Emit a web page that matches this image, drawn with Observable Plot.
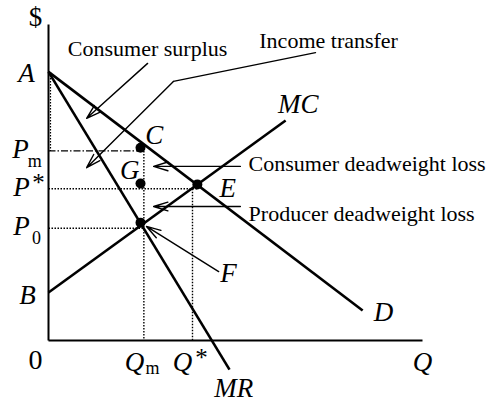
<!DOCTYPE html>
<html><head><meta charset="utf-8">
<script src="https://cdn.jsdelivr.net/npm/d3@7"></script>
<script src="https://cdn.jsdelivr.net/npm/@observablehq/plot@0.6"></script>
<style>body{margin:0;background:#fff}</style>
</head><body><div id="chart"></div>
<script>
// Key price / quantity levels (arbitrary units, Q 0..100, $ 0..100)
const Qm = 25.5, Qstar = 38.5;
const Pm = 60, Pstar = 48, P0 = 35.5, Aval = 85, Bval = 15.2;

// Curves: demand D, marginal revenue MR, marginal cost MC
const curves = [
  {name: "D",  q1: 0, p1: Aval, q2: 84,   p2: 9.5},
  {name: "MR", q1: 0, p1: Aval, q2: 48.4, p2: -9.2},
  {name: "MC", q1: 0, p1: Bval, q2: 63.4, p2: 69.6}
];

// Marked points
const points = [
  {name: "C", q: 24.6, p: 61.0},
  {name: "G", q: 24.6, p: 49.7},
  {name: "E", q: 39.8, p: 49.4},
  {name: "F", q: 24.6, p: 37.3}
];

// Dotted guide lines
const dottedGuides = [
  {q1: 0, p1: Pstar, q2: 39.8, p2: Pstar},
  {q1: 0, p1: P0, q2: Qm, p2: P0},
  {q1: Qm, p1: Pm, q2: Qm, p2: 0},
  {q1: Qstar, p1: Pstar, q2: Qstar, p2: 0}
];
const dottedAxisGuide = [{q1: 0, p1: Aval, q2: 0, p2: Pm}];
const dashDotGuides = [{q1: 0, p1: Pm, q2: Qm, p2: Pm}];

// Annotation arrows (from label to target area)
const arrows = [
  {q1: 26.5, p1: 87.7, q2: 10.2, p2: 70.3},   // consumer surplus
  {q1: 33.4, p1: 82.0, q2: 10.2, p2: 54.7},   // income transfer
  {q1: 51.3, p1: 55.1, q2: 28.1, p2: 55.1},   // consumer DWL
  {q1: 51.3, p1: 42.4, q2: 28.1, p2: 42.4},   // producer DWL
  {q1: 45.5, p1: 21.8, q2: 26.2, p2: 36.1}    // F
];
const incomeLeader = [{q: 71.4, p: 91.1}, {q: 33.4, p: 82.0}];

// Italic letter labels
const italicLabels = [
  {text: "A", q: -5.9, p: 84.5},
  {text: "B", q: -5.6, p: 14.2},
  {text: "P", q: -7.5, p: 60.4},
  {text: "P", q: -7.2, p: 48.4},
  {text: "P", q: -7.2, p: 36.1},
  {text: "Q", q: 23.0, p: -7.0},
  {text: "Q", q: 35.8, p: -7.0},
  {text: "Q", q: 100, p: -7.0},
  {text: "MR", q: 49.5, p: -15.2},
  {text: "D", q: 89.6, p: 8.9},
  {text: "MC", q: 66.8, p: 74.7},
  {text: "E", q: 47.9, p: 48.1},
  {text: "C", q: 28.3, p: 64.9},
  {text: "G", q: 21.7, p: 53.8},
  {text: "F", q: 48.1, p: 21.2}
];
// Upright small labels (subscripts, stars, origin, $)
const uprightLabels = [
  {text: "m", q: -3.7, p: 56.6, size: 18},
  {text: "*", q: -2.7, p: 49.7, size: 25},
  {text: "0", q: -3.2, p: 32.3, size: 18},
  {text: "m", q: 27.8, p: -8.9, size: 18},
  {text: "*", q: 40.9, p: -5.4, size: 25},
  {text: "0", q: -3.5, p: -6.3, size: 28},
  {text: "$", q: -3.5, p: 102.2, size: 27}
];
// Text annotations
const centeredNotes = [
  {text: "Consumer surplus", q: 26.5, p: 92.4},
  {text: "Income transfer", q: 74.9, p: 94.9}
];
const leftNotes = [
  {text: "Consumer deadweight loss", q: 53.5, p: 56.0},
  {text: "Producer deadweight loss", q: 53.5, p: 40.2}
];

const chart = Plot.plot({
  width: 488,
  height: 402,
  margin: 0,
  x: {domain: [0, 100], range: [48, 422], axis: null},
  y: {domain: [0, 100], range: [340, 24], axis: null},
  style: {fontFamily: "'Liberation Serif', 'Times New Roman', serif", background: "white", color: "black"},
  marks: [
    // axes
    Plot.link([{q1: 0, p1: 100, q2: 0, p2: 0}, {q1: 0, p1: 0, q2: 100, p2: 0}],
      {x1: "q1", y1: "p1", x2: "q2", y2: "p2", stroke: "black", strokeWidth: 2}),
    // guides
    Plot.link(dottedGuides, {x1: "q1", y1: "p1", x2: "q2", y2: "p2", stroke: "black", strokeWidth: 1.4, strokeDasharray: "1.5,1.5"}),
    Plot.link(dottedAxisGuide, {x1: "q1", y1: "p1", x2: "q2", y2: "p2", dx: 2, stroke: "black", strokeWidth: 1.2, strokeDasharray: "1.5,1.5"}),
    Plot.link(dashDotGuides, {x1: "q1", y1: "p1", x2: "q2", y2: "p2", stroke: "black", strokeWidth: 1.4, strokeDasharray: "7,2,1.5,2"}),
    // curves
    Plot.link(curves, {x1: "q1", y1: "p1", x2: "q2", y2: "p2", stroke: "black", strokeWidth: 2.6}),
    // annotation arrows
    Plot.line(incomeLeader, {x: "q", y: "p", stroke: "black", strokeWidth: 1.3}),
    Plot.arrow(arrows, {x1: "q1", y1: "p1", x2: "q2", y2: "p2", stroke: "black", strokeWidth: 1.4, headLength: 16, headAngle: 34, inset: 0}),
    // points
    Plot.dot(points, {x: "q", y: "p", r: 5, fill: "black"}),
    // labels
    Plot.text(italicLabels, {x: "q", y: "p", text: "text", fontSize: 27, fontStyle: "italic", textAnchor: "middle", lineAnchor: "middle", fill: "black"}),
    Plot.text(uprightLabels, {x: "q", y: "p", text: "text", fontSize: d => d.size, textAnchor: "middle", lineAnchor: "middle", fill: "black"}),
    Plot.text(centeredNotes, {x: "q", y: "p", text: "text", fontSize: 22, textAnchor: "middle", lineAnchor: "middle", fill: "black"}),
    Plot.text(leftNotes, {x: "q", y: "p", text: "text", fontSize: 22, textAnchor: "start", lineAnchor: "middle", fill: "black"})
  ]
});
document.getElementById("chart").appendChild(chart);
</script>
</body></html>
